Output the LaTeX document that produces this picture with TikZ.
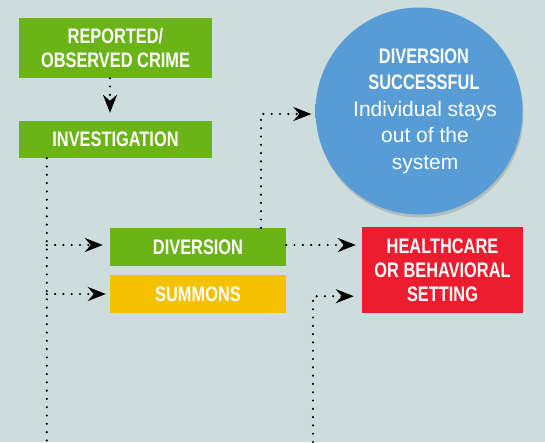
\documentclass[tikz,border=0pt]{standalone}
\usepackage{xcolor}
\usepackage{fontspec}
\usepackage{tikz}
\usetikzlibrary{shapes, arrows.meta, positioning, calc, shadows}
\setmainfont{Liberation Sans}
\newfontfamily\condfont[FakeStretch=0.78]{Liberation Sans}
\definecolor{bgcolor}{RGB}{205, 221, 222}
\definecolor{stepgreen}{RGB}{106, 180, 23}
\definecolor{stepyellow}{RGB}{246, 193, 0}
\definecolor{stepred}{RGB}{237, 28, 46}
\definecolor{disklight}{RGB}{88, 156, 214}
\definecolor{diskmid}{RGB}{70, 138, 198}
\definecolor{diskdark}{RGB}{40, 100, 160}
\pgfdeclareradialshading{bluedisk}{\pgfpoint{0bp}{0bp}}{%
  color(0bp)=(disklight); color(34bp)=(disklight); color(44bp)=(diskmid);
  color(49bp)=(diskdark); color(50bp)=(diskdark)}

\begin{document}
\begin{tikzpicture}[x=1pt, y=-1pt,
    stepbox/.style={rectangle, inner sep=0pt, text=white, align=center,
      font=\condfont\bfseries\fontsize{21}{24}\selectfont},
    flow/.style={line width=2.4pt, line cap=round, dash pattern=on 0pt off 8.3pt,
      -{Stealth[length=18pt, width=14pt, inset=6pt]}},
    trail/.style={line width=2.4pt, line cap=round, dash pattern=on 0pt off 8.3pt}]
    % Background
    \fill[bgcolor] (0,0) rectangle (545,442);
    \useasboundingbox (0,0) rectangle (545,442);

    % Boxes
    \node[stepbox, fill=stepgreen, minimum width=193pt, minimum height=60pt]
        (reported) at (115.5,48) {REPORTED/\\OBSERVED CRIME};
    \node[stepbox, fill=stepgreen, minimum width=193pt, minimum height=37pt]
        (investigation) at (115.5,139.5) {INVESTIGATION};
    \node[stepbox, fill=stepgreen, minimum width=176pt, minimum height=38pt]
        (diversion) at (198,247) {DIVERSION};
    \node[stepbox, fill=stepyellow, minimum width=176pt, minimum height=38pt]
        (summons) at (198,294) {SUMMONS};
    \node[stepbox, fill=stepred, minimum width=161pt, minimum height=86pt]
        (healthcare) at (442.5,270) {HEALTHCARE\\OR BEHAVIORAL\\SETTING};

    % Outcome disk
    \node[circle, minimum size=207pt, inner sep=0pt, shading=bluedisk,
        drop shadow={shadow xshift=1pt, shadow yshift=-3pt, opacity=0.35},
        text=white, align=center, font=\fontsize{21}{26.5}\selectfont]
        (success) at (419,111)
        {\hspace*{10pt}{\condfont\bfseries\fontsize{21}{26.5}\selectfont DIVERSION}\\
         \hspace*{10pt}{\condfont\bfseries\fontsize{21}{26.5}\selectfont SUCCESSFUL}\\
         \hspace*{12pt}Individual stays\\\hspace*{12pt}out of the\\\hspace*{12pt}system};

    % Free ends at the bottom
    \coordinate (invtap) at ([xshift=28pt]investigation.south west);
    \coordinate (leftend) at (invtap |- 0,442);
    \coordinate (rightend) at (313,442);
    \coordinate (divtap) at ([xshift=63pt]diversion.north);

    % Connectors
    \draw[flow, shorten >=8pt] ([xshift=-5.5pt]reported.south) -- ([xshift=-5.5pt]investigation.north);
    \draw[trail] (invtap) -- (leftend);
    \draw[flow, shorten >=7pt] ([yshift=2pt]invtap |- diversion.west) -- ([yshift=2pt]diversion.west);
    \draw[flow, shorten >=4pt] (invtap |- summons.west) -- (summons.west);
    \draw[flow, shorten >=4pt] (divtap) |- ([yshift=-3pt]success.west);
    \draw[flow, shorten >=6pt] ([yshift=2pt]diversion.east) -- ([yshift=2pt]diversion.east -| healthcare.west);
    \draw[flow, shorten >=8pt] (rightend) |- ([yshift=17pt]healthcare.south west);
\end{tikzpicture}
\end{document}
